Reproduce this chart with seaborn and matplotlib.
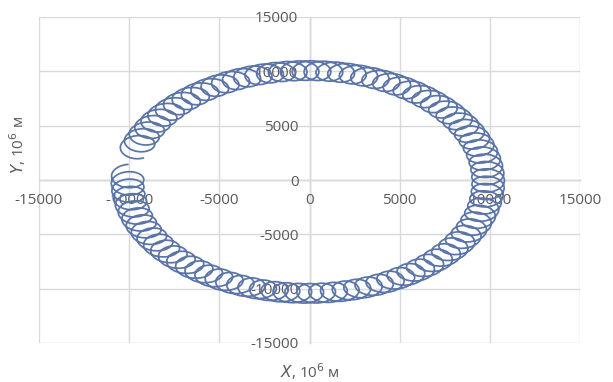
import numpy as np
import pandas as pd
import matplotlib
matplotlib.use("Agg")
import matplotlib.pyplot as plt
import seaborn as sns

# Orbit parameters (units of 10^6 m)
orbit_radius_x = 10000.0     # semi-axis of the main orbit along X
orbit_radius_y = 10250.0     # semi-axis of the main orbit along Y
loop_radius = 900.0          # radius of the small loops
loops_per_orbit = 95.0       # number of small loops per revolution
orbit_center = (-90.0, -180.0)
start_angle_deg = 176.0      # main-orbit angle where the path begins
sweep_deg = 347.05           # angle covered (counter-clockwise)
loop_phase_deg = 90.0        # initial phase of the small loop

x_ticks = [-15000, -10000, -5000, 0, 5000, 10000, 15000]
y_ticks = [-15000, -10000, -5000, 0, 5000, 10000, 15000]

theta = np.deg2rad(start_angle_deg + np.linspace(0, sweep_deg, 20000))
phase = loops_per_orbit * (theta - theta[0]) + np.deg2rad(loop_phase_deg)
xs = orbit_center[0] + orbit_radius_x * np.cos(theta) + loop_radius * np.cos(phase)
ys = orbit_center[1] + orbit_radius_y * np.sin(theta) + loop_radius * np.sin(phase)
df = pd.DataFrame({"X": xs, "Y": ys})

sns.set_theme(style="white")
plt.rcParams["font.family"] = ["Open Sans", "DejaVu Sans"]

fig = plt.figure(figsize=(6.13, 3.82), dpi=100)
ax = fig.add_axes([39 / 613, 1 - 343 / 382, 541 / 613, 326 / 382])

sns.lineplot(data=df, x="X", y="Y", sort=False, estimator=None,
             color="#5b75a9", linewidth=1.25, ax=ax)

ax.set_xlim(-15000, 15000)
ax.set_ylim(-15000, 15000)
ax.set_xticks(x_ticks)
ax.set_yticks(y_ticks)
ax.set_xticklabels([str(v) for v in x_ticks])
ax.set_yticklabels([str(v) for v in y_ticks])
ax.grid(True, color="#d9d9d9", linewidth=1.0)
ax.set_axisbelow(True)

for side in ("top", "right"):
    ax.spines[side].set_visible(False)
ax.spines["left"].set_position(("data", 0))
ax.spines["bottom"].set_position(("data", 0))
for side in ("left", "bottom"):
    ax.spines[side].set_color("#c8c8c8")
    ax.spines[side].set_linewidth(1.0)
    ax.spines[side].set_zorder(0.5)

ax.tick_params(axis="both", length=0, labelsize=11, labelcolor="#595959")
ax.tick_params(axis="x", pad=9)
ax.tick_params(axis="y", pad=8)
ax.set_xlabel("")
ax.set_ylabel("")

fig.text(310 / 613, 1 - 372 / 382, r"$\mathit{X}$, 10$^6$ м", ha="center", va="center",
         fontsize=11, color="#595959")
fig.text(18 / 613, 1 - 145 / 382, r"$\mathit{Y}$, 10$^6$ м", ha="center", va="center",
         rotation=90, fontsize=11, color="#595959")

fig.savefig("out.png", dpi=100, facecolor="white")
